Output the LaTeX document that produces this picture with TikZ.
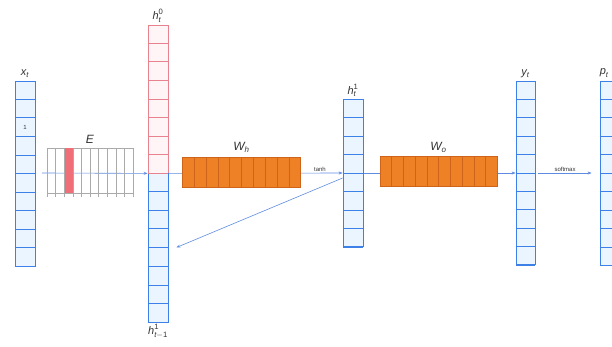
\documentclass[tikz,border=0pt]{standalone}
\usepackage{fontspec}
\setmainfont{Liberation Sans}
\usepackage{amsmath}
\usepackage{xcolor}
\definecolor{cellblue}{RGB}{60,128,232}
\definecolor{fillblue}{RGB}{234,245,255}
\definecolor{cellred}{RGB}{232,130,142}
\definecolor{fillred}{RGB}{255,245,247}
\definecolor{wfill}{RGB}{238,128,38}
\definecolor{wline}{RGB}{205,100,25}
\definecolor{egray}{RGB}{170,170,170}
\definecolor{ered}{RGB}{240,110,120}
\definecolor{flow}{RGB}{95,140,225}
\usetikzlibrary{calc,positioning,arrows.meta,backgrounds}
\tikzset{
	vec/.style={
		draw=cellblue, fill=fillblue, thick, rectangle,
		minimum width=20pt, inner sep=0pt
	},
	vecred/.style={vec, draw=cellred, fill=fillred},
	weight/.style={
		draw=wline, fill=wfill, rectangle,
		minimum width=118pt, minimum height=30pt, inner sep=0pt
	},
	embed/.style={draw=egray, rectangle, minimum width=86pt, minimum height=45pt, inner sep=0pt},
	lbl/.style={font=\fontsize{11}{12}\selectfont, text=black!80, inner sep=1pt},
	fn/.style={font=\fontsize{6}{7}\selectfont, text=black!80, inner sep=1pt},
	flow_arrow/.style={-{Stealth[length=4pt,width=3pt]}, flow, semithick}
}

\begin{document}
\begin{tikzpicture}[x=1pt,y=-1pt]
				\useasboundingbox (0,0) rectangle (612,347);
				\node[vec, minimum height=185pt] (xt) at (25,173.5) {};
				\node[embed] (E) at (90,170.5) {};
				\node[vecred, minimum height=148pt] (h0) at (158,99) {};
				\node[vec, minimum height=149pt] (hprev) at (158,247.5) {};
				\node[weight] (Wh) at (241.5,172) {};
				\node[vec, minimum height=147pt] (ht) at (353,173) {};
				\node[weight, minimum width=117pt] (Wo) at (438.5,171.5) {};
				\node[vec, minimum width=19pt, minimum height=183pt] (yt) at (525.5,173) {};
				\node[vec, minimum height=184pt] (pt) at (610,173) {};
				\foreach \v/\k/\c in {xt/10/cellblue, h0/8/cellred, hprev/8/cellblue, ht/8/cellblue, yt/10/cellblue, pt/10/cellblue}
					\foreach \i in {1,...,\k}
						\draw[\c, thick] ($(\v.north west)!\i/\k!(\v.south west)$) -- ($(\v.north east)!\i/\k!(\v.south east)$);
				\foreach \w in {Wh,Wo}
					\foreach \i in {1,...,9}
						\draw[wline] ($(\w.north west)!\i/10!(\w.north east)$) -- ($(\w.south west)!\i/10!(\w.south east)$);
				\fill[ered] ($(E.north west)!2/10!(E.north east)$) rectangle ($(E.south west)!3/10!(E.south east)$);
				\foreach \i in {0,...,10}
					\draw[egray] ($(E.north west)!\i/10!(E.north east)$) -- ($(E.south west)!\i/10!(E.south east)+(0,4)$);
				\node[fn] (one) at ($(xt.north)!2.5/10!(xt.south)$) {1};
				% labels
				\node[lbl, above=2pt of xt] (xlbl) {$\textit{x}_{\textit{t}}$};
				\node[lbl, font=\fontsize{12}{13}\selectfont, above=3pt of E] (elbl) {$\textit{E}$};
				\node[lbl, above=1pt of h0] (h0lbl) {$\textit{h}_{\textit{t}}^{\textup{0}}$};
				\node[lbl, below=1pt of hprev] (hprevlbl) {$\textit{h}_{\textit{t}-\textup{1}}^{\textup{1}}$};
				\node[lbl, font=\fontsize{12}{13}\selectfont, above=3pt of Wh] (whlbl) {$\textit{W}_{\textit{h}}$};
				\node[lbl, above=1pt of ht] (htlbl) {$\textit{h}_{\textit{t}}^{\textup{1}}$};
				\node[lbl, font=\fontsize{12}{13}\selectfont, above=3pt of Wo] (wolbl) {$\textit{W}_{\textit{o}}$};
				\node[lbl, above=2pt of yt] (ytlbl) {$\textit{y}_{\textit{t}}$};
				\node[lbl, above right=2pt and -1pt of pt.north west] (ptlbl) {$\textit{p}_{\textit{t}}$};
				% connectors
				\coordinate (ein) at (42,173);
				\begin{scope}[on background layer]
					\draw[flow_arrow] (ein) -- (h0.south west);
					\draw[flow_arrow] (h0.south east) -- (ht.west) node[fn, pos=0.87, above] (tanh) {tanh};
					\draw[flow_arrow] (ht.east) -- (yt.west);
				\end{scope}
				\draw[flow_arrow] ([yshift=-5pt]ht.west) -- ([xshift=8pt]hprev.east);
				\draw[flow_arrow] ([xshift=3pt]yt.east) -- ([xshift=-8pt]pt.west) node[fn, midway, above] (softmax) {softmax};
			\end{tikzpicture}
\end{document}
